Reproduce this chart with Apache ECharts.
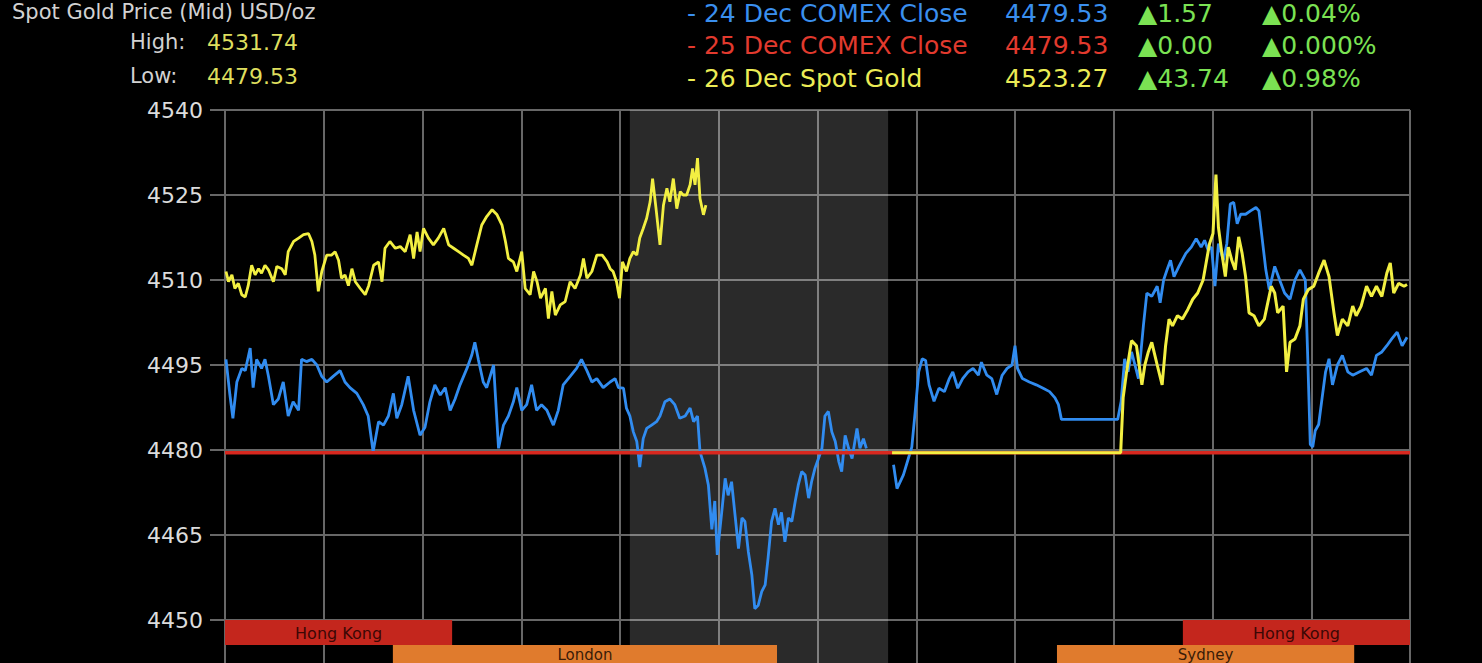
<!DOCTYPE html>
<html>
<head>
<meta charset="utf-8">
<script src="https://cdn.jsdelivr.net/npm/echarts@6/dist/echarts.min.js"></script>
<style>
html,body{margin:0;padding:0;background:#000;overflow:hidden;}
#chart{width:1482px;height:663px;}
</style>
</head>
<body>
<div id="chart"></div>
<script>
// ---------- DATA ----------
const titleText = 'Spot Gold Price (Mid) USD/oz';
const statLabels = ['High:', 'Low:'];
const statValues = ['4531.74', '4479.53'];

const legendNames = ['- 24 Dec COMEX Close', '- 25 Dec COMEX Close', '- 26 Dec Spot Gold'];
const legendLast = ['4479.53', '4479.53', '4523.27'];
const legendChange = ['\u25B21.57', '\u25B20.00', '\u25B243.74'];
const legendPct = ['\u25B20.04%', '\u25B20.000%', '\u25B20.98%'];

// ticks are counted from min: 4420, 4435, 4450 ... 4540 (only 4450..4540 fall inside the picture)
const yTicks = { min: 4420, max: 4540, step: 15 };
const xHours = { min: 0, max: 24, step: 2 };

const shadedHours = [8.2, 13.43];

const sessions = [
  { name: 'Hong Kong', start: 0, end: 4.6, row: 0 },
  { name: 'London', start: 3.4, end: 11.18, row: 1 },
  { name: 'Sydney', start: 16.85, end: 22.87, row: 1 },
  { name: 'Hong Kong', start: 19.4, end: 24, row: 0 }
];

// 24 Dec COMEX close series (blue), [hour, price]
const blueA = [[0.02,4496],[0.10,4489.7],[0.16,4485.6],[0.24,4492],[0.34,4494.4],[0.41,4494],[0.51,4498],[0.57,4491],[0.64,4496],[0.74,4494.4],[0.81,4496],[0.88,4493],[0.98,4488],[1.08,4489],[1.18,4492],[1.28,4486],[1.38,4488.5],[1.49,4487],[1.55,4496],[1.65,4495.6],[1.76,4496],[1.86,4495],[1.96,4493],[2.06,4492],[2.19,4493],[2.33,4494],[2.43,4492],[2.53,4491],[2.67,4490],[2.80,4488],[2.90,4486],[3.00,4479.7],[3.11,4485],[3.21,4484.4],[3.31,4486],[3.41,4490],[3.48,4485.6],[3.58,4488],[3.71,4493],[3.82,4487],[3.95,4482.6],[4.05,4484],[4.15,4488.5],[4.25,4491.5],[4.36,4489.7],[4.46,4491],[4.56,4487],[4.66,4489],[4.76,4491.5],[4.90,4494.4],[5.00,4496.8],[5.06,4499],[5.13,4496],[5.23,4492],[5.30,4491],[5.44,4495],[5.54,4480.3],[5.64,4484.4],[5.74,4486],[5.84,4488.5],[5.91,4491],[6.01,4487],[6.11,4488],[6.21,4491.5],[6.31,4487],[6.41,4488],[6.52,4487],[6.65,4484.4],[6.75,4487],[6.85,4491.5],[6.99,4493],[7.12,4494.4],[7.22,4496],[7.33,4494],[7.43,4492],[7.53,4492.6],[7.66,4491],[7.80,4492],[7.90,4492.6],[7.97,4491],[8.07,4490.9],[8.13,4487.4],[8.20,4486],[8.27,4483.2],[8.34,4481.5],[8.40,4477],[8.47,4482],[8.54,4483.8],[8.64,4484.4],[8.74,4485],[8.81,4486],[8.91,4488.5],[9.01,4489],[9.11,4488],[9.21,4485.6],[9.32,4486],[9.42,4487.4],[9.49,4485],[9.57,4486],[9.62,4479.7],[9.72,4476.8],[9.79,4473.8],[9.86,4466],[9.92,4471],[9.97,4461.5],[10.06,4469],[10.13,4475],[10.19,4472],[10.26,4474.4],[10.33,4468.5],[10.40,4462.6],[10.47,4468],[10.53,4467.4],[10.60,4462],[10.67,4458],[10.73,4452],[10.80,4452.6],[10.87,4455],[10.94,4456.2],[11.00,4461],[11.07,4467.4],[11.14,4469.7],[11.21,4466.8],[11.27,4469],[11.34,4463.8],[11.41,4468],[11.48,4467.4],[11.55,4471],[11.61,4473.8],[11.68,4476.2],[11.75,4475.6],[11.82,4471.5],[11.88,4474.4],[11.95,4476.8],[12.02,4478.5],[12.09,4480.3],[12.15,4486],[12.22,4486.8],[12.29,4483.2],[12.36,4481.5],[12.43,4478],[12.49,4476.2],[12.56,4482.6],[12.63,4480.3],[12.70,4478.5],[12.80,4483.8],[12.86,4480.3],[12.93,4482],[12.99,4480.3]];
const blueB = [[13.54,4477.4],[13.61,4473.2],[13.74,4475.6],[13.84,4478.5],[13.91,4480.5],[13.98,4486.9],[14.05,4493.8],[14.12,4496.1],[14.19,4495.8],[14.26,4491.5],[14.36,4488.6],[14.46,4490.9],[14.57,4490.3],[14.67,4492.6],[14.74,4493.8],[14.84,4490.9],[14.94,4492.6],[15.05,4493.8],[15.15,4494.4],[15.26,4493.2],[15.32,4495.5],[15.43,4493.2],[15.53,4492.6],[15.63,4489.8],[15.74,4493.2],[15.84,4494.4],[15.94,4495],[16.00,4498.4],[16.05,4494.4],[16.15,4492.6],[16.29,4492],[16.43,4491.5],[16.57,4490.9],[16.70,4490.3],[16.81,4489.2],[16.88,4488],[16.94,4485.4],[18.08,4485.4],[18.15,4488.6],[18.22,4496.1],[18.29,4493.8],[18.36,4497.3],[18.43,4495],[18.50,4492.6],[18.60,4501.9],[18.67,4507.7],[18.77,4507.1],[18.88,4508.9],[18.94,4506],[19.01,4510],[19.08,4511.8],[19.15,4513.5],[19.22,4510.6],[19.32,4512.4],[19.46,4514.7],[19.57,4515.8],[19.67,4517.3],[19.77,4515.8],[19.84,4517],[19.91,4515.3],[19.98,4515.8],[20.05,4508.9],[20.12,4516.4],[20.22,4513.5],[20.29,4516.4],[20.36,4523.4],[20.43,4523.7],[20.50,4519.9],[20.57,4521.6],[20.67,4521.6],[20.77,4522.2],[20.88,4522.8],[20.94,4522.2],[21.01,4517],[21.08,4511.8],[21.15,4508.3],[21.26,4512.4],[21.36,4510],[21.46,4507.7],[21.57,4506.6],[21.67,4510],[21.77,4511.8],[21.88,4510],[21.93,4496],[21.98,4481],[22.03,4480.5],[22.08,4483.4],[22.15,4484.5],[22.22,4489.2],[22.29,4493.8],[22.36,4496.1],[22.43,4491.5],[22.53,4495],[22.63,4496.7],[22.74,4493.8],[22.84,4493.2],[22.98,4493.8],[23.12,4494.4],[23.22,4493.2],[23.32,4496.7],[23.43,4497.3],[23.53,4498.4],[23.63,4499.6],[23.74,4500.8],[23.84,4498.4],[23.94,4499.9]];

// 25 Dec COMEX close (red)
const redLine = [[0,4479.53],[24,4479.53]];

// 26 Dec spot gold (yellow)
const yellowA = [[0.02,4511.5],[0.07,4509.7],[0.14,4510.9],[0.20,4508.5],[0.27,4509.4],[0.34,4507.4],[0.41,4507],[0.47,4509],[0.54,4512.6],[0.61,4510.9],[0.68,4512],[0.74,4511.2],[0.81,4512.6],[0.88,4511.8],[0.98,4509.7],[1.05,4512.4],[1.15,4512],[1.22,4510.9],[1.28,4515],[1.39,4516.8],[1.49,4517.4],[1.59,4518],[1.69,4518.2],[1.76,4516.8],[1.82,4514.4],[1.89,4508],[1.96,4511.5],[2.06,4514.4],[2.16,4514.4],[2.23,4515],[2.30,4513.5],[2.36,4510.3],[2.43,4510.9],[2.50,4509],[2.57,4512],[2.64,4509.7],[2.74,4508.5],[2.84,4507.4],[2.91,4509],[3.01,4512.6],[3.11,4513.2],[3.18,4509.7],[3.24,4515.6],[3.34,4516.8],[3.45,4515.6],[3.55,4515.9],[3.65,4515],[3.75,4518],[3.82,4513.8],[3.89,4518.5],[3.95,4515],[4.02,4519.1],[4.12,4517.4],[4.22,4516.2],[4.32,4517.4],[4.43,4519.1],[4.53,4516.2],[4.63,4515.6],[4.73,4515],[4.83,4514.4],[4.93,4513.8],[5.00,4512.6],[5.10,4516.2],[5.20,4519.7],[5.30,4521.2],[5.41,4522.4],[5.51,4521.5],[5.61,4519.7],[5.68,4516.8],[5.74,4513.8],[5.84,4513.2],[5.91,4511.5],[6.01,4515],[6.08,4508.5],[6.18,4507.4],[6.25,4511.5],[6.32,4509.7],[6.39,4506.8],[6.49,4508.5],[6.55,4503.2],[6.62,4508],[6.69,4503.8],[6.79,4505.6],[6.89,4506.2],[6.99,4509.7],[7.09,4508.5],[7.20,4510.9],[7.26,4513.8],[7.33,4510.3],[7.43,4511.5],[7.53,4514.4],[7.64,4514.4],[7.74,4513.2],[7.80,4512],[7.86,4511.5],[7.93,4509.7],[7.99,4506.8],[8.05,4513.2],[8.13,4511.5],[8.20,4513.8],[8.27,4515],[8.34,4514.4],[8.40,4517.4],[8.47,4519.1],[8.54,4520.9],[8.61,4523.8],[8.66,4527.9],[8.73,4522.6],[8.81,4516.2],[8.88,4523.2],[8.95,4526.2],[9.01,4523.8],[9.08,4527.9],[9.15,4522.6],[9.22,4525.6],[9.28,4525],[9.35,4525],[9.42,4526.8],[9.47,4529.7],[9.52,4526.8],[9.57,4531.5],[9.62,4524.4],[9.69,4521.5],[9.74,4523.2]];
const yellowB = [[13.51,4479.53],[18.14,4479.53],[18.19,4489.2],[18.26,4493.8],[18.36,4499.3],[18.46,4498.4],[18.57,4491.5],[18.63,4495],[18.70,4497.3],[18.77,4499],[18.88,4495],[18.98,4491.5],[19.05,4498.4],[19.12,4503.1],[19.19,4501.9],[19.29,4503.7],[19.39,4503.1],[19.50,4504.8],[19.60,4506.6],[19.70,4507.7],[19.81,4510],[19.88,4513.5],[19.94,4516.4],[20.01,4518.2],[20.07,4528.6],[20.12,4519.3],[20.19,4514.7],[20.26,4510.6],[20.32,4515.8],[20.39,4513.5],[20.46,4511.8],[20.53,4517.6],[20.60,4514.7],[20.67,4510.6],[20.74,4504.2],[20.84,4503.7],[20.94,4501.9],[21.05,4503.1],[21.12,4506],[21.19,4508.9],[21.26,4507.7],[21.32,4504.2],[21.43,4505.4],[21.50,4493.8],[21.57,4499],[21.67,4499.6],[21.77,4501.9],[21.84,4506.6],[21.94,4508.3],[22.05,4508.9],[22.15,4511.2],[22.26,4513.5],[22.36,4510.6],[22.46,4504.2],[22.53,4500.2],[22.63,4503.1],[22.74,4501.9],[22.84,4505.4],[22.91,4503.7],[23.01,4505.4],[23.12,4508.9],[23.22,4507.1],[23.32,4508.9],[23.43,4507.1],[23.53,4511.2],[23.60,4513],[23.67,4507.7],[23.77,4509.4],[23.88,4508.9],[23.94,4509.2]];

// ---------- STYLE ----------
const FONT = "'DejaVu Sans', Verdana, sans-serif";
const C_BLUE = '#318cf0';
const C_RED = '#d8281f';
const C_YEL = '#f2ef42';
const C_GRID = '#676767';
const C_GREEN = '#7be253';
const legendColors = ['#3a8fee', '#e23a2e', '#ecec55'];
const ROW_H = 4.41; // session row height in price units (25px)
const CHART_H = 663;

const chart = echarts.init(document.getElementById('chart'), null, { renderer: 'svg', width: 1482, height: CHART_H });

function txt(text, x, y, fill, size, align) {
  return {
    type: 'text', x: x, y: y, silent: true,
    style: { text: text, fill: fill, font: size + 'px ' + FONT, align: align || 'left', verticalAlign: 'middle' }
  };
}

const graphics = [];
graphics.push(txt(titleText, 12, 12, '#d2d2d2', 21));
statLabels.forEach((l, i) => {
  const y = [42, 76][i];
  graphics.push(txt(l, 130, y, '#d2d2d2', 21));
  graphics.push(txt(statValues[i], 207, y, '#dede5e', 22));
});
const rowsY = [13, 45, 78];
legendNames.forEach((n, i) => {
  graphics.push(txt(n, 687, rowsY[i], legendColors[i], 25));
  graphics.push(txt(legendLast[i], 1005, rowsY[i], legendColors[i], 25));
  graphics.push(txt(legendChange[i], 1138, rowsY[i], C_GREEN, 25));
  graphics.push(txt(legendPct[i], 1262, rowsY[i], C_GREEN, 25));
});

const lineBase = { type: 'line', showSymbol: false, symbol: 'none', animation: false, silent: true, z: 3 };

const option = {
  backgroundColor: '#000',
  animation: false,
  grid: { left: 225, width: 1185, top: 110, height: 680, outerBoundsMode: 'none', containLabel: false },
  xAxis: {
    type: 'value', min: xHours.min, max: xHours.max, interval: xHours.step,
    axisLine: { show: false }, axisTick: { show: false }, axisLabel: { show: false },
    splitLine: { show: true, lineStyle: { color: C_GRID, width: 2 } }
  },
  yAxis: {
    type: 'value', min: yTicks.min, max: yTicks.max, interval: yTicks.step,
    axisLine: { show: false },
    axisTick: { show: true, length: 15, lineStyle: { color: C_GRID, width: 2 } },
    axisLabel: { show: true, margin: 22, color: '#dcdcdc', fontSize: 22, fontFamily: FONT,
      formatter: v => (v >= 4450 ? String(v) : '') },
    splitLine: { show: true, lineStyle: { color: C_GRID, width: 2 } }
  },
  graphic: graphics,
  series: [
    {
      type: 'line', data: [], z: 1, silent: true, animation: false,
      markArea: {
        silent: true,
        itemStyle: { color: 'rgba(255,255,255,0.165)' },
        data: [[{ xAxis: shadedHours[0] }, { xAxis: shadedHours[1] }]]
      }
    },
    Object.assign({}, lineBase, { name: legendNames[0], data: blueA, lineStyle: { color: C_BLUE, width: 2.8 } }),
    Object.assign({}, lineBase, { name: legendNames[0], data: blueB, lineStyle: { color: C_BLUE, width: 2.8 } }),
    Object.assign({}, lineBase, { name: legendNames[1], data: redLine, z: 4, lineStyle: { color: C_RED, width: 3.5 } }),
    Object.assign({}, lineBase, { name: legendNames[2], data: yellowA, z: 5, lineStyle: { color: C_YEL, width: 2.8 } }),
    Object.assign({}, lineBase, { name: legendNames[2], data: yellowB, z: 5, lineStyle: { color: C_YEL, width: 3 } }),
    {
      type: 'custom', z: 6, silent: true, animation: false,
      data: sessions.map(s => [s.start, s.end, s.row]),
      renderItem: function (params, api) {
        const s = sessions[params.dataIndex];
        const top = 4450 - s.row * ROW_H;
        const bot = top - ROW_H;
        const p1 = api.coord([s.start, top]);
        const p2 = api.coord([s.end, bot]);
        const isRed = s.row === 0;
        // center the label on the visible part of the bar
        const visBottom = Math.min(p2[1], CHART_H);
        const ty = (p1[1] + visBottom) / 2 + 1;
        return {
          type: 'group',
          children: [
            { type: 'rect', shape: { x: p1[0], y: p1[1], width: p2[0] - p1[0], height: p2[1] - p1[1] },
              style: { fill: isRed ? '#c4261d' : '#e07b2d' } },
            { type: 'text', style: { text: s.name, x: (p1[0] + p2[0]) / 2, y: ty,
              align: 'center', verticalAlign: 'middle', fill: isRed ? '#3c0805' : '#3a1c08',
              font: (isRed ? 16 : 15) + 'px ' + FONT } }
          ]
        };
      }
    }
  ]
};
chart.setOption(option);
</script>
</body>
</html>
